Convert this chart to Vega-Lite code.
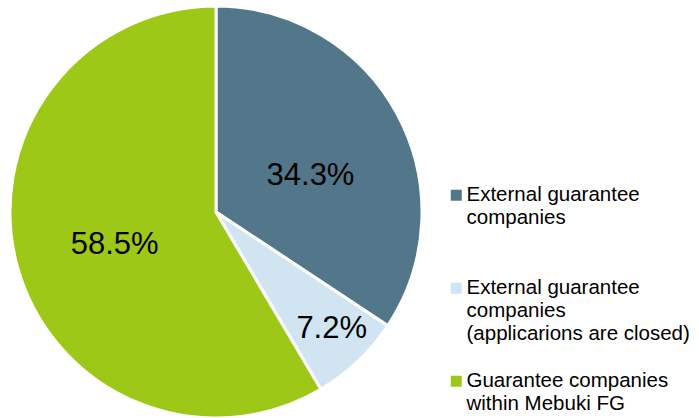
{
  "$schema": "https://vega.github.io/schema/vega-lite/v6.json",
  "width": 432,
  "height": 424,
  "autosize": {"type": "none"},
  "padding": {"left": 0, "top": 0, "right": 267, "bottom": 0},
  "background": "white",
  "config": {"view": {"stroke": null}, "font": "Liberation Sans", "style": {"guide-label": {"lineHeight": 23}}},
  "data": {
    "values": [
      {"category": "External guarantee companies", "value": 0.343},
      {"category": "External guarantee companies (applicarions are closed)", "value": 0.072},
      {"category": "Guarantee companies within Mebuki FG", "value": 0.585}
    ]
  },
  "transform": [
    {"stack": "value", "groupby": [], "sort": [{"field": "category", "order": "ascending"}], "as": ["v0", "v1"]},
    {"calculate": "(datum.v0 + datum.v1) / 2", "as": "mid"}
  ],
  "encoding": {
    "color": {
      "field": "category",
      "type": "nominal",
      "scale": {
        "domain": ["External guarantee companies", "External guarantee companies (applicarions are closed)", "Guarantee companies within Mebuki FG"],
        "range": ["#52778a", "#d0e5f1", "#9ec817"]
      },
      "legend": {
        "title": null,
        "orient": "none",
        "legendX": 446,
        "legendY": 185,
        "symbolType": "square",
        "symbolSize": 121,
        "symbolStrokeWidth": 0,
        "labelFont": "Liberation Sans",
        "labelFontSize": 20.5,
        "labelColor": "#000000",
        "labelLimit": 400,
        "labelOffset": 0,
        "labelExpr": "split(datum.value == 'External guarantee companies' ? 'External guarantee|companies' : datum.value == 'Guarantee companies within Mebuki FG' ? 'Guarantee companies|within Mebuki FG' : 'External guarantee|companies|(applicarions are closed)', '|')",
        "gridAlign": "all",
        "rowPadding": 26
      }
    }
  },
  "layer": [
    {
      "mark": {"type": "arc", "outerRadius": 206, "stroke": "white", "strokeWidth": 3},
      "encoding": {
        "theta": {"field": "v0", "type": "quantitative", "scale": {"domain": [0, 1]}},
        "theta2": {"field": "v1"}
      }
    },
    {
      "transform": [{"filter": "datum.category == 'External guarantee companies'"}],
      "mark": {"type": "text", "radius": 105, "fontSize": 31, "font": "Liberation Sans", "dy": 14, "dx": 2},
      "encoding": {
        "theta": {"field": "mid", "type": "quantitative", "scale": {"domain": [0, 1]}},
        "text": {"field": "value", "type": "quantitative", "format": ".1%"},
        "color": {"value": "black"}
      }
    },
    {
      "transform": [{"filter": "datum.category == 'Guarantee companies within Mebuki FG'"}],
      "mark": {"type": "text", "radius": 105, "fontSize": 31, "font": "Liberation Sans", "dy": 5},
      "encoding": {
        "theta": {"field": "mid", "type": "quantitative", "scale": {"domain": [0, 1]}},
        "text": {"field": "value", "type": "quantitative", "format": ".1%"},
        "color": {"value": "black"}
      }
    },
    {
      "transform": [{"filter": "datum.value < 0.1"}],
      "mark": {"type": "text", "radius": 165, "fontSize": 31, "font": "Liberation Sans", "dy": -3, "dx": 2},
      "encoding": {
        "theta": {"field": "mid", "type": "quantitative", "scale": {"domain": [0, 1]}},
        "text": {"field": "value", "type": "quantitative", "format": ".1%"},
        "color": {"value": "black"}
      }
    }
  ]
}
